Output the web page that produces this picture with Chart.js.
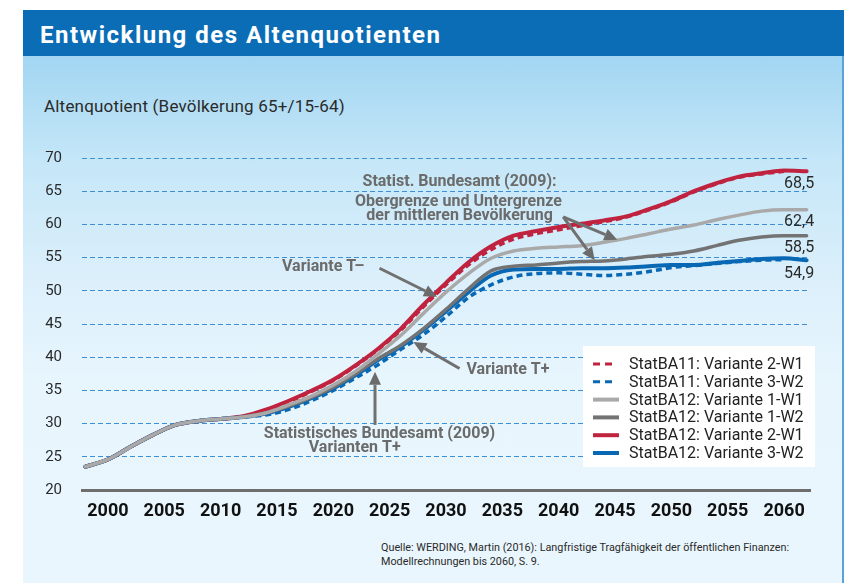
<!DOCTYPE html>
<html>
<head>
<meta charset="utf-8">
<script src="https://cdn.jsdelivr.net/npm/chart.js@4.4.0/dist/chart.umd.min.js"></script>
<style>
  body { margin: 0; width: 852px; height: 583px; background: #fff; position: relative; overflow: hidden; font-family: Roboto, sans-serif; }
  #bar { position: absolute; left: 23px; top: 10px; width: 821px; height: 46px; background: #0b6db6; }
  #title { position: absolute; left: 40px; top: 23px; color: #fff; font: bold 24px/24px Roboto, sans-serif; letter-spacing: 1.5px; white-space: nowrap; }
  #panel { position: absolute; left: 23px; top: 56px; width: 819px; height: 527px;
    background: linear-gradient(#a2d6f2 0px, #c6e7f8 110px, #dbeffb 220px, #e7f5fd 320px, #eaf6fd 527px);
    border-right: 2px solid #5aa2da; }
  #ytitle { position: absolute; left: 44px; top: 98px; color: #2a2a2a; font: 17px/17px Roboto, sans-serif; letter-spacing: 0.2px; white-space: nowrap; }
  #src { position: absolute; left: 381px; top: 541px; color: #2a2a2a; font: 10.8px/13.5px Roboto, sans-serif; white-space: nowrap; }
  canvas { position: absolute; left: 0; top: 0; }
</style>
</head>
<body>
<div id="panel"></div>
<div id="bar"></div>
<div id="title">Entwicklung des Altenquotienten</div>
<div id="ytitle">Altenquotient (Bevölkerung 65+/15-64)</div>
<div id="src">Quelle: WERDING, Martin (2016): Langfristige Tragfähigkeit der öffentlichen Finanzen:<br>Modellrechnungen bis 2060, S. 9.</div>
<canvas id="chart" width="852" height="583"></canvas>
<script>
// jahre (x) und werte
var years = [1998, 2000, 2002, 2004, 2006, 2008, 2010, 2012, 2014, 2016, 2018, 2020, 2022, 2024, 2026, 2028, 2030,
  2032, 2034, 2036, 2038, 2040, 2042, 2044, 2046, 2048, 2050, 2052, 2054, 2056, 2058, 2060, 2062];

var statBA11_2W1 = [23.5, 24.6, 26.5, 28.3, 29.8, 30.4, 30.7, 31.1, 32.0, 33.2, 34.8, 36.5, 38.7, 41.2, 44.1, 47.6, 50.9,
  53.9, 56.2, 57.8, 58.6, 59.2, 59.8, 60.4, 61.1, 62.2, 63.4, 64.9, 66.1, 67.1, 67.6, 68.0];
var statBA11_3W2 = [23.5, 24.6, 26.5, 28.3, 29.8, 30.4, 30.7, 31.0, 31.3, 32.1, 33.4, 35.0, 36.9, 38.9, 41.2, 43.4, 46.1,
  49.0, 50.9, 52.1, 52.6, 52.7, 52.5, 52.3, 52.5, 52.9, 53.5, 53.8, 54.1, 54.4, 54.6, 54.7];
var statBA12_1W1 = [23.5, 24.6, 26.5, 28.3, 29.8, 30.4, 30.7, 31.0, 31.6, 32.8, 34.1, 35.8, 37.9, 40.5, 43.3, 46.6, 49.8,
  52.6, 54.9, 56.0, 56.4, 56.6, 56.8, 57.3, 57.9, 58.6, 59.3, 59.9, 60.7, 61.4, 62.0, 62.2, 62.2];
var statBA12_1W2 = [23.5, 24.6, 26.5, 28.3, 29.8, 30.4, 30.7, 31.0, 31.6, 32.6, 33.9, 35.5, 37.5, 39.8, 41.8, 44.3, 47.2,
  50.3, 53.0, 53.7, 53.9, 54.2, 54.4, 54.5, 54.8, 55.2, 55.5, 56.0, 56.8, 57.6, 58.1, 58.3, 58.3];
var statBA12_2W1 = [23.5, 24.6, 26.5, 28.3, 29.8, 30.4, 30.7, 31.1, 32.1, 33.4, 34.9, 36.6, 38.8, 41.3, 44.3, 47.9, 51.2,
  54.3, 56.7, 58.3, 59.0, 59.6, 60.1, 60.6, 61.2, 62.3, 63.5, 65.0, 66.2, 67.2, 67.7, 68.1, 68.0];
var statBA12_3W2 = [23.5, 24.6, 26.5, 28.3, 29.8, 30.4, 30.7, 31.0, 31.5, 32.5, 33.8, 35.3, 37.3, 39.6, 41.6, 44.1, 46.9,
  49.8, 52.3, 53.2, 53.3, 53.3, 53.4, 53.4, 53.5, 53.7, 53.9, 53.9, 54.2, 54.5, 54.8, 54.9, 54.6];

var seriesLabels = ['StatBA11: Variante 2-W1', 'StatBA11: Variante 3-W2', 'StatBA12: Variante 1-W1',
  'StatBA12: Variante 1-W2', 'StatBA12: Variante 2-W1', 'StatBA12: Variante 3-W2'];
var endLabels = ['68,5', '62,4', '58,5', '54,9'];
var xTicks = [2000, 2005, 2010, 2015, 2020, 2025, 2030, 2035, 2040, 2045, 2050, 2055, 2060];
var labelYear = 2060;

// beschriftungen im diagramm (jahr, wert)
var notes = [
  ['Statist. Bundesamt (2009):', 2031.2, 66.4],
  ['Obergrenze und Untergrenze', 2031.1, 63.3],
  ['der mittleren Bevölkerung', 2031.2, 61.2],
  ['Variante T–', 2019.1, 53.6],
  ['Variante T+', 2035.5, 38.1],
  ['Statistisches Bundesamt (2009)', 2024.1, 28.4],
  ['Varianten T+', 2021.9, 26.3]
];
var arrows = [
  [2040.4, 61.15, 2045.2, 57.7],
  [2040.4, 61.15, 2043.2, 54.6],
  [2024.1, 53.4, 2029.2, 49.1],
  [2031.2, 38.3, 2027.1, 42.3],
  [2023.7, 29.8, 2023.7, 37.8]
];

function pts(vals) {
  return vals.map(function(v, i) { return {x: years[i], y: v}; });
}

var RED = '#c0233f', BLUE = '#0868b4', LGRAY = '#a9a9a9', DGRAY = '#737373';

var datasets = [
  {label: seriesLabels[0], data: pts(statBA11_2W1), borderColor: RED, borderWidth: 3.5, borderDash: [6, 4], order: 4},
  {label: seriesLabels[1], data: pts(statBA11_3W2), borderColor: BLUE, borderWidth: 3.5, borderDash: [6, 4], order: 3},
  {label: seriesLabels[2], data: pts(statBA12_1W1), borderColor: LGRAY, borderWidth: 3.5, order: 1, endLabel: endLabels[1], endOff: 12},
  {label: seriesLabels[3], data: pts(statBA12_1W2), borderColor: DGRAY, borderWidth: 3.5, order: 2, endLabel: endLabels[2], endOff: 12},
  {label: seriesLabels[4], data: pts(statBA12_2W1), borderColor: RED, borderWidth: 4, order: 6, endLabel: endLabels[0], endOff: 13},
  {label: seriesLabels[5], data: pts(statBA12_3W2), borderColor: BLUE, borderWidth: 4, order: 5, endLabel: endLabels[3], endOff: 16}
];
datasets.forEach(function(d) {
  d.pointRadius = 0;
  d.fill = false;
  d.cubicInterpolationMode = 'monotone';
  d.borderCapStyle = d.borderDash ? 'butt' : 'round';
});

function arrow(ctx, x1, y1, x2, y2) {
  var a = Math.atan2(y2 - y1, x2 - x1), L = 13, W = 6;
  var bx = x2 - L * Math.cos(a), by = y2 - L * Math.sin(a);
  ctx.beginPath();
  ctx.moveTo(x1, y1);
  ctx.lineTo(bx, by);
  ctx.stroke();
  ctx.beginPath();
  ctx.moveTo(x2, y2);
  ctx.lineTo(bx + W * Math.sin(a), by - W * Math.cos(a));
  ctx.lineTo(bx - W * Math.sin(a), by + W * Math.cos(a));
  ctx.closePath();
  ctx.fill();
}

var overlay = {
  id: 'overlay',
  afterDatasetsDraw: function(chart) {
    var ctx = chart.ctx, x = chart.scales.x, y = chart.scales.y;
    ctx.save();
    // werte am ende
    ctx.font = '16px Roboto';
    ctx.fillStyle = '#2a2a2a';
    ctx.textAlign = 'left';
    ctx.textBaseline = 'middle';
    chart.data.datasets.forEach(function(ds) {
      if (!ds.endLabel) return;
      var p = ds.data.find(function(q) { return q.x === labelYear; });
      ctx.fillText(ds.endLabel, x.getPixelForValue(labelYear), y.getPixelForValue(p.y) + ds.endOff);
    });
    // texte + pfeile
    ctx.font = 'bold 16px Roboto';
    ctx.fillStyle = '#6b6b6b';
    ctx.textAlign = 'center';
    notes.forEach(function(n) {
      ctx.fillText(n[0], x.getPixelForValue(n[1]), y.getPixelForValue(n[2]));
    });
    ctx.strokeStyle = '#707070';
    ctx.lineWidth = 3;
    arrows.forEach(function(a) {
      arrow(ctx, x.getPixelForValue(a[0]), y.getPixelForValue(a[1]), x.getPixelForValue(a[2]), y.getPixelForValue(a[3]));
    });
    ctx.restore();
  },
  afterDraw: function(chart) {
    // legende, weisser kasten
    var ctx = chart.ctx;
    var bx = 583, by = 346, bw = 232, bh = 121, row = 17.8;
    ctx.save();
    ctx.fillStyle = '#fff';
    ctx.fillRect(bx, by, bw, bh);
    ctx.font = '16px Roboto';
    ctx.textBaseline = 'middle';
    ctx.textAlign = 'left';
    chart.data.datasets.forEach(function(ds, i) {
      var ly = by + 18 + i * row;
      ctx.strokeStyle = ds.borderColor;
      ctx.lineWidth = ds.borderDash ? 3 : 4;
      ctx.setLineDash(ds.borderDash ? [7, 5] : []);
      ctx.lineCap = 'butt';
      ctx.beginPath();
      ctx.moveTo(bx + 10, ly);
      ctx.lineTo(bx + (ds.borderDash ? 29 : 36), ly);
      ctx.stroke();
      ctx.fillStyle = '#222';
      ctx.fillText(ds.label, bx + 46, ly + 1);
    });
    ctx.restore();
  }
};

new Chart(document.getElementById('chart'), {
  type: 'line',
  data: {datasets: datasets},
  plugins: [overlay],
  options: {
    responsive: false,
    animation: false,
    devicePixelRatio: 1,
    layout: {padding: {top: 158, right: 42, left: 0, bottom: 0}},
    plugins: {legend: {display: false}, tooltip: {enabled: false}},
    scales: {
      x: {
        type: 'linear',
        min: 1997.7,
        max: 2062.3,
        afterBuildTicks: function(scale) {
          scale.ticks = xTicks.map(function(v) { return {value: v}; });
        },
        afterFit: function(scale) { scale.height = 93; },
        grid: {display: false, drawTicks: false},
        border: {display: true, color: '#6e6e6e', width: 3},
        ticks: {
          padding: 11,
          color: '#111',
          font: {family: 'Roboto', size: 18, weight: 'bold'},
          maxRotation: 0,
          callback: function(v) { return String(v); }
        }
      },
      y: {
        min: 20,
        max: 70,
        afterFit: function(scale) { scale.width = 82; },
        grid: {
          drawTicks: false,
          color: function(c) { return c.tick && c.tick.value === 20 ? 'rgba(0,0,0,0)' : '#3c8fd3'; },
          lineWidth: 1
        },
        border: {display: false, dash: [5, 3]},
        ticks: {
          stepSize: 5,
          padding: 20,
          color: '#2a2a2a',
          font: {family: 'Roboto', size: 15}
        }
      }
    }
  }
});
</script>
</body>
</html>
